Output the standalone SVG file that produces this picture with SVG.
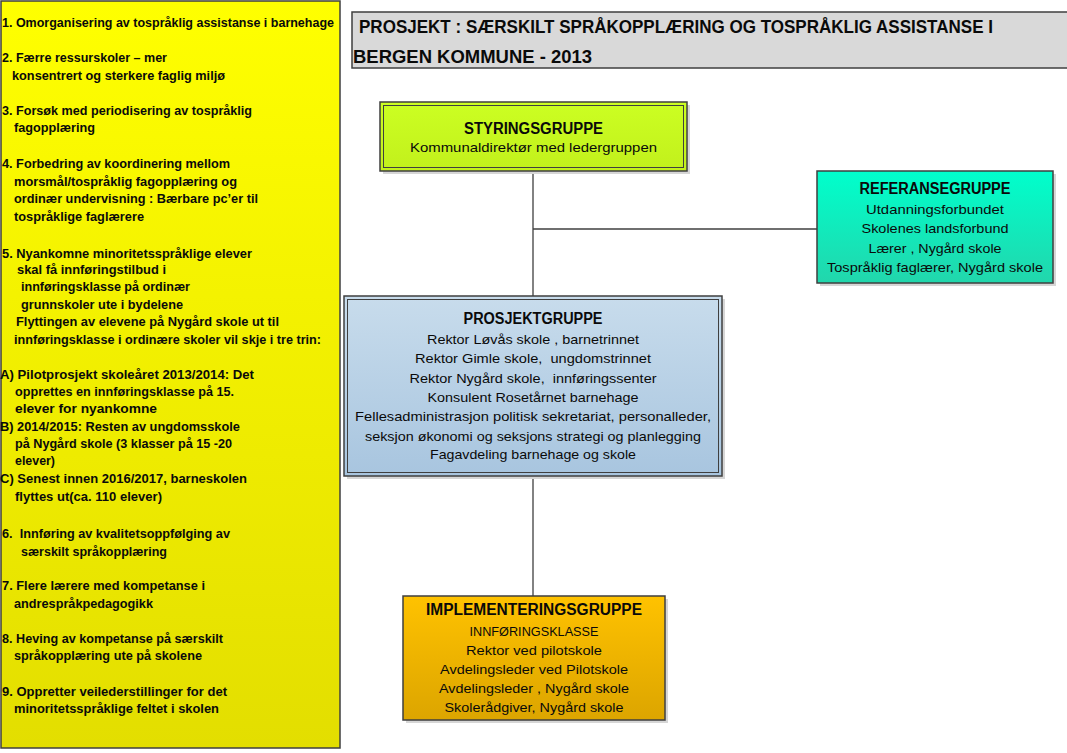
<svg xmlns="http://www.w3.org/2000/svg" width="1067" height="753" viewBox="0 0 1067 753">
<defs>
<linearGradient id="gY" x1="0" y1="0" x2="0" y2="1"><stop offset="0" stop-color="#ffff00"/><stop offset="1" stop-color="#e3de00"/></linearGradient>
<linearGradient id="gL" x1="0" y1="0" x2="0" y2="1"><stop offset="0" stop-color="#ccff22"/><stop offset="1" stop-color="#c2f01c"/></linearGradient>
<linearGradient id="gT" x1="0" y1="0" x2="0" y2="1"><stop offset="0" stop-color="#00ffcc"/><stop offset="1" stop-color="#22d6ac"/></linearGradient>
<linearGradient id="gB" x1="0" y1="0" x2="0" y2="1"><stop offset="0" stop-color="#c8dcec"/><stop offset="1" stop-color="#a8c5df"/></linearGradient>
<linearGradient id="gO" x1="0" y1="0" x2="0" y2="1"><stop offset="0" stop-color="#ffc200"/><stop offset="1" stop-color="#dca500"/></linearGradient>
</defs>
<style>
.b{stroke:#3f3f3f;stroke-width:1.5}
.in{fill:none;stroke:#3f3f3f;stroke-width:1}
.sh{fill:#d6d6d6}
.t{font-family:"Liberation Sans",Arial,sans-serif;fill:#0a0a0a}
.lp{font-size:13.5px;font-weight:bold}
.h{font-size:16px;font-weight:bold;text-anchor:middle}
.r{font-size:13.5px;text-anchor:middle}
.tt{font-size:17.5px;font-weight:bold}
.c{stroke:#3f3f3f;stroke-width:1.3;fill:none}
</style>
<rect width="1067" height="753" fill="#ffffff"/>

<g id="panel">
<rect x="1" y="1" width="339" height="747" fill="url(#gY)" class="b"/>
<g class="t lp">
<text x="2" y="27" textLength="332" lengthAdjust="spacingAndGlyphs">1. Omorganisering av tospråklig assistanse i barnehage</text>
<text x="2" y="62" textLength="165" lengthAdjust="spacingAndGlyphs">2. Færre ressurskoler – mer</text>
<text x="12" y="80" textLength="213" lengthAdjust="spacingAndGlyphs">konsentrert og sterkere faglig miljø</text>
<text x="2" y="115" textLength="250" lengthAdjust="spacingAndGlyphs">3. Forsøk med periodisering av tospråklig</text>
<text x="14" y="132" textLength="81" lengthAdjust="spacingAndGlyphs">fagopplæring</text>
<text x="2" y="168" textLength="228" lengthAdjust="spacingAndGlyphs">4. Forbedring av koordinering mellom</text>
<text x="14" y="186" textLength="223" lengthAdjust="spacingAndGlyphs">morsmål/tospråklig fagopplæring og</text>
<text x="14" y="203" textLength="244" lengthAdjust="spacingAndGlyphs">ordinær undervisning : Bærbare pc’er til</text>
<text x="14" y="221" textLength="130" lengthAdjust="spacingAndGlyphs">tospråklige faglærere</text>
<text x="2" y="258" textLength="250" lengthAdjust="spacingAndGlyphs">5. Nyankomne minoritetsspråklige elever</text>
<text x="17" y="274" textLength="149" lengthAdjust="spacingAndGlyphs">skal få innføringstilbud i</text>
<text x="21" y="291" textLength="169" lengthAdjust="spacingAndGlyphs">innføringsklasse på ordinær</text>
<text x="21" y="309" textLength="162" lengthAdjust="spacingAndGlyphs">grunnskoler ute i bydelene</text>
<text x="16" y="326" textLength="263" lengthAdjust="spacingAndGlyphs">Flyttingen av elevene på Nygård skole ut til</text>
<text x="14" y="344" textLength="307" lengthAdjust="spacingAndGlyphs">innføringsklasse i ordinære skoler vil skje i tre trin:</text>
<text x="0" y="379" textLength="254" lengthAdjust="spacingAndGlyphs">A) Pilotprosjekt skoleåret 2013/2014: Det</text>
<text x="15" y="396" textLength="219" lengthAdjust="spacingAndGlyphs">opprettes en innføringsklasse på 15.</text>
<text x="15" y="413" textLength="142" lengthAdjust="spacingAndGlyphs">elever for nyankomne</text>
<text x="0" y="431" textLength="240" lengthAdjust="spacingAndGlyphs">B) 2014/2015: Resten av ungdomsskole</text>
<text x="15" y="448" textLength="217" lengthAdjust="spacingAndGlyphs">på Nygård skole (3 klasser på 15 -20</text>
<text x="15" y="465" textLength="40" lengthAdjust="spacingAndGlyphs">elever)</text>
<text x="0" y="483" textLength="247" lengthAdjust="spacingAndGlyphs">C) Senest innen 2016/2017, barneskolen</text>
<text x="15" y="501" textLength="147" lengthAdjust="spacingAndGlyphs">flyttes ut(ca. 110 elever)</text>
<text x="2" y="538" textLength="228" lengthAdjust="spacingAndGlyphs" xml:space="preserve">6.  Innføring av kvalitetsoppfølging av</text>
<text x="21" y="556" textLength="146" lengthAdjust="spacingAndGlyphs">særskilt språkopplæring</text>
<text x="2" y="590" textLength="203" lengthAdjust="spacingAndGlyphs">7. Flere lærere med kompetanse i</text>
<text x="14" y="608" textLength="139" lengthAdjust="spacingAndGlyphs">andrespråkpedagogikk</text>
<text x="2" y="643" textLength="221" lengthAdjust="spacingAndGlyphs">8. Heving av kompetanse på særskilt</text>
<text x="14" y="660" textLength="188" lengthAdjust="spacingAndGlyphs">språkopplæring ute på skolene</text>
<text x="2" y="696" textLength="225" lengthAdjust="spacingAndGlyphs">9. Oppretter veilederstillinger for det</text>
<text x="14" y="713" textLength="205" lengthAdjust="spacingAndGlyphs">minoritetsspråklige feltet i skolen</text>
</g>
</g>

<g id="title">
<rect x="352" y="12" width="716" height="56" fill="#d9d9d9" class="b"/>
<text class="t tt" x="359" y="33" textLength="634" lengthAdjust="spacingAndGlyphs">PROSJEKT : SÆRSKILT SPRÅKOPPLÆRING OG TOSPRÅKLIG ASSISTANSE I</text>
<text class="t tt" x="353" y="63" textLength="239" lengthAdjust="spacingAndGlyphs">BERGEN KOMMUNE - 2013</text>
</g>

<g id="connectors">
<line class="c" x1="533" y1="171" x2="533" y2="296"/>
<line class="c" x1="533" y1="229" x2="817" y2="229"/>
<line class="c" x1="533" y1="476" x2="533" y2="596"/>
</g>

<g id="styringsgruppe">
<rect class="sh" x="383" y="105" width="307" height="69"/>
<rect x="380" y="102" width="307" height="69" fill="url(#gL)" class="b"/>
<rect x="383.5" y="105.5" width="300" height="62" class="in"/>
<text class="t h" x="533.5" y="134" textLength="139" lengthAdjust="spacingAndGlyphs">STYRINGSGRUPPE</text>
<text class="t r" x="533.5" y="152" textLength="247" lengthAdjust="spacingAndGlyphs">Kommunaldirektør med ledergruppen</text>
</g>

<g id="referansegruppe">
<rect class="sh" x="820" y="174" width="236" height="112"/>
<rect x="817" y="171" width="236" height="112" fill="url(#gT)" class="b"/>
<text class="t h" x="935" y="194" textLength="151" lengthAdjust="spacingAndGlyphs">REFERANSEGRUPPE</text>
<text class="t r" x="935" y="214" textLength="138" lengthAdjust="spacingAndGlyphs">Utdanningsforbundet</text>
<text class="t r" x="935" y="233" textLength="147" lengthAdjust="spacingAndGlyphs">Skolenes landsforbund</text>
<text class="t r" x="935" y="253" textLength="133" lengthAdjust="spacingAndGlyphs">Lærer , Nygård skole</text>
<text class="t r" x="935" y="272" textLength="216" lengthAdjust="spacingAndGlyphs">Tospråklig faglærer, Nygård skole</text>
</g>

<g id="prosjektgruppe">
<rect class="sh" x="347" y="299" width="378" height="180"/>
<rect x="344" y="296" width="378" height="180" fill="url(#gB)" class="b"/>
<rect x="347.5" y="299.5" width="371" height="173" class="in"/>
<text class="t h" x="533" y="324" textLength="139" lengthAdjust="spacingAndGlyphs">PROSJEKTGRUPPE</text>
<text class="t r" x="533" y="344" textLength="212" lengthAdjust="spacingAndGlyphs">Rektor Løvås skole , barnetrinnet</text>
<text class="t r" x="533" y="363" textLength="236" lengthAdjust="spacingAndGlyphs" xml:space="preserve">Rektor Gimle skole,  ungdomstrinnet</text>
<text class="t r" x="533" y="383" textLength="247" lengthAdjust="spacingAndGlyphs" xml:space="preserve">Rektor Nygård skole,  innføringssenter</text>
<text class="t r" x="533" y="402" textLength="211" lengthAdjust="spacingAndGlyphs">Konsulent Rosetårnet barnehage</text>
<text class="t r" x="533" y="421" textLength="356" lengthAdjust="spacingAndGlyphs">Fellesadministrasjon politisk sekretariat, personalleder,</text>
<text class="t r" x="533" y="441" textLength="336" lengthAdjust="spacingAndGlyphs">seksjon økonomi og seksjons strategi og planlegging</text>
<text class="t r" x="533" y="459" textLength="206" lengthAdjust="spacingAndGlyphs">Fagavdeling barnehage og skole</text>
</g>

<g id="implementeringsgruppe">
<rect class="sh" x="406" y="599" width="262" height="124"/>
<rect x="403" y="596" width="262" height="124" fill="url(#gO)" class="b"/>
<text class="t h" x="534" y="615" textLength="216" lengthAdjust="spacingAndGlyphs">IMPLEMENTERINGSGRUPPE</text>
<text class="t r" x="534" y="636" textLength="129" lengthAdjust="spacingAndGlyphs">INNFØRINGSKLASSE</text>
<text class="t r" x="534" y="655" textLength="136" lengthAdjust="spacingAndGlyphs">Rektor ved pilotskole</text>
<text class="t r" x="534" y="674" textLength="188" lengthAdjust="spacingAndGlyphs">Avdelingsleder ved Pilotskole</text>
<text class="t r" x="534" y="693" textLength="190" lengthAdjust="spacingAndGlyphs">Avdelingsleder , Nygård skole</text>
<text class="t r" x="534" y="712" textLength="179" lengthAdjust="spacingAndGlyphs">Skolerådgiver, Nygård skole</text>
</g>
</svg>
